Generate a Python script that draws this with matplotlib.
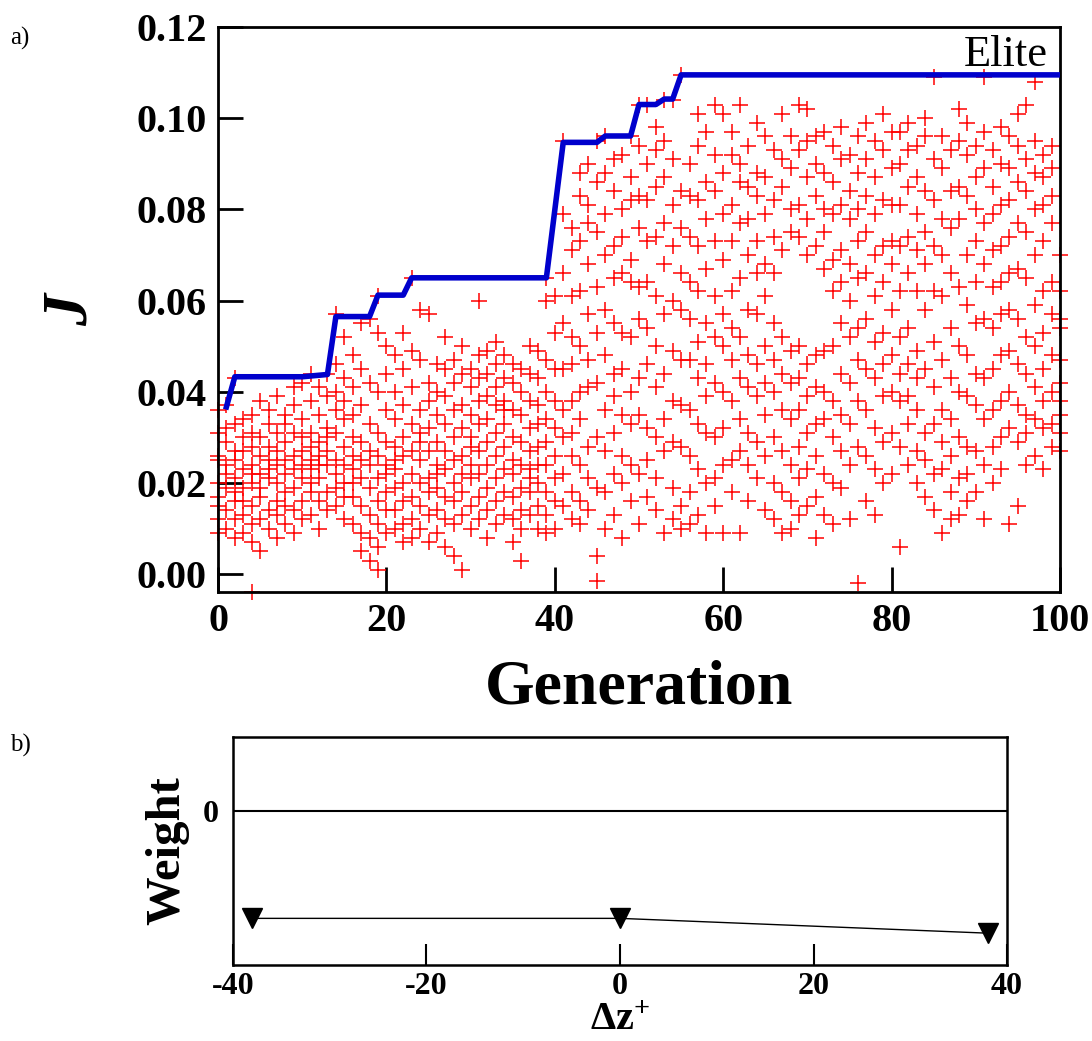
import matplotlib
matplotlib.use("Agg")
import matplotlib.pyplot as plt
import numpy as np

plt.rcParams['font.family'] = ['Liberation Serif', 'DejaVu Serif']
plt.rcParams['mathtext.fontset'] = 'custom'
plt.rcParams['mathtext.rm'] = 'Liberation Serif:bold'
plt.rcParams['mathtext.bf'] = 'Liberation Serif:bold'
plt.rcParams['axes.unicode_minus'] = False

# ---------------- data: panel a ----------------
elite_gen = [1, 2, 10, 13, 14, 18, 19, 22, 23, 39, 41, 45, 46, 49, 50, 52, 53, 54, 55, 100]
elite_J = [0.0367, 0.0433, 0.0433, 0.0438, 0.0565, 0.0565, 0.0612, 0.0612, 0.065, 0.065,
           0.0947, 0.0947, 0.0961, 0.0961, 0.103, 0.103, 0.1042, 0.1042, 0.1095, 0.1095]

pop_gen00_20 = [
    [0.036, 0.031, 0.026, 0.020, 0.015, 0.012, 0.009, 0.025, 0.017],
    [0.037, 0.029, 0.024, 0.019, 0.014, 0.010, 0.022, 0.032],
    [0.043, 0.033, 0.027, 0.021, 0.016, 0.012, 0.008, 0.025, 0.018],
    [0.034, 0.030, 0.023, 0.019, 0.013, 0.009, 0.027, 0.016],
    [0.035, 0.028, 0.024, 0.020, 0.011, 0.007, 0.015, 0.031, 0.022, -0.004],
    [0.038, 0.026, 0.022, 0.017, 0.012, 0.005, 0.030, 0.019],
    [0.036, 0.033, 0.025, 0.021, 0.014, 0.010, 0.028, 0.023],
    [0.039, 0.031, 0.024, 0.020, 0.016, 0.013, 0.008, 0.027],
    [0.033, 0.029, 0.025, 0.022, 0.018, 0.011, 0.015, 0.035],
    [0.041, 0.037, 0.026, 0.023, 0.019, 0.014, 0.009, 0.031],
    [0.042, 0.034, 0.030, 0.024, 0.021, 0.016, 0.012, 0.027],
    [0.044, 0.038, 0.028, 0.025, 0.023, 0.018, 0.013, 0.031, 0.020],
    [0.041, 0.035, 0.029, 0.024, 0.021, 0.016, 0.010, 0.026],
    [0.044, 0.039, 0.032, 0.027, 0.024, 0.018, 0.014, 0.030],
    [0.057, 0.046, 0.040, 0.036, 0.031, 0.025, 0.022, 0.019, 0.015],
    [0.052, 0.043, 0.038, 0.034, 0.028, 0.024, 0.020, 0.012, 0.017],
    [0.048, 0.041, 0.035, 0.030, 0.026, 0.023, 0.017, 0.011, 0.020],
    [0.055, 0.045, 0.037, 0.029, 0.025, 0.021, 0.015, 0.009, 0.005],
    [0.056, 0.042, 0.033, 0.027, 0.024, 0.019, 0.013, 0.008, 0.003],
    [0.061, 0.053, 0.040, 0.031, 0.026, 0.021, 0.016, 0.011, 0.001, 0.006],
    [0.050, 0.044, 0.036, 0.029, 0.024, 0.018, 0.014, 0.009, 0.022],
]
pop_gen21_40 = [
    [0.048, 0.040, 0.034, 0.028, 0.023, 0.019, 0.014, 0.010, 0.025],
    [0.053, 0.045, 0.037, 0.030, 0.026, 0.020, 0.016, 0.011, 0.007],
    [0.065, 0.049, 0.041, 0.033, 0.027, 0.022, 0.017, 0.012, 0.008],
    [0.058, 0.047, 0.036, 0.031, 0.025, 0.020, 0.015, 0.010, 0.029],
    [0.057, 0.042, 0.038, 0.032, 0.027, 0.021, 0.018, 0.013, 0.007],
    [0.046, 0.040, 0.035, 0.029, 0.024, 0.019, 0.014, 0.009, 0.022],
    [0.052, 0.045, 0.039, 0.033, 0.027, 0.023, 0.017, 0.012, 0.006],
    [0.047, 0.042, 0.036, 0.030, 0.025, 0.020, 0.016, 0.011, 0.004],
    [0.050, 0.044, 0.037, 0.032, 0.026, 0.022, 0.018, 0.013, 0.001],
    [0.045, 0.041, 0.035, 0.030, 0.024, 0.021, 0.015, 0.010, 0.028],
    [0.060, 0.048, 0.043, 0.038, 0.033, 0.027, 0.022, 0.017, 0.012],
    [0.049, 0.044, 0.039, 0.034, 0.029, 0.024, 0.019, 0.014, 0.008],
    [0.051, 0.046, 0.041, 0.037, 0.031, 0.026, 0.021, 0.016, 0.011],
    [0.048, 0.043, 0.038, 0.033, 0.028, 0.023, 0.018, 0.013, 0.036],
    [0.046, 0.042, 0.036, 0.030, 0.025, 0.022, 0.017, 0.012, 0.007],
    [0.045, 0.040, 0.035, 0.029, 0.024, 0.019, 0.014, 0.010, 0.003],
    [0.050, 0.044, 0.038, 0.032, 0.027, 0.023, 0.018, 0.013, 0.021],
    [0.049, 0.043, 0.037, 0.033, 0.028, 0.024, 0.020, 0.015, 0.010],
    [0.065, 0.060, 0.047, 0.040, 0.034, 0.029, 0.024, 0.018, 0.013, 0.009],
    [0.061, 0.053, 0.045, 0.038, 0.032, 0.026, 0.021, 0.016, 0.010],
]
pop_gen41_60 = [
    [0.095, 0.079, 0.066, 0.055, 0.045, 0.036, 0.030, 0.022, 0.015],
    [0.076, 0.071, 0.061, 0.052, 0.046, 0.038, 0.031, 0.026, 0.018, 0.012],
    [0.088, 0.083, 0.073, 0.062, 0.050, 0.040, 0.034, 0.024, 0.016, 0.011],
    [0.090, 0.081, 0.077, 0.068, 0.057, 0.047, 0.041, 0.028, 0.021, 0.014],
    [0.095, 0.086, 0.075, 0.063, 0.053, 0.042, 0.030, 0.019, 0.004, -0.0015],
    [0.096, 0.088, 0.079, 0.070, 0.058, 0.048, 0.036, 0.027, 0.018, 0.010],
    [0.091, 0.084, 0.072, 0.065, 0.055, 0.044, 0.039, 0.031, 0.022, 0.013],
    [0.092, 0.080, 0.074, 0.066, 0.053, 0.045, 0.035, 0.026, 0.020, 0.008],
    [0.096, 0.087, 0.082, 0.069, 0.064, 0.052, 0.040, 0.033, 0.024, 0.016],
    [0.103, 0.094, 0.083, 0.076, 0.063, 0.056, 0.043, 0.035, 0.022, 0.011],
    [0.103, 0.090, 0.082, 0.073, 0.064, 0.054, 0.046, 0.032, 0.025, 0.017],
    [0.098, 0.093, 0.085, 0.074, 0.061, 0.050, 0.041, 0.030, 0.021, 0.014],
    [0.104, 0.095, 0.087, 0.077, 0.068, 0.057, 0.044, 0.034, 0.027, 0.009],
    [0.104, 0.091, 0.081, 0.072, 0.060, 0.049, 0.038, 0.029, 0.019, 0.012],
    [0.1095, 0.084, 0.076, 0.066, 0.058, 0.047, 0.037, 0.028, 0.015, 0.010],
    [0.090, 0.083, 0.074, 0.064, 0.056, 0.047, 0.036, 0.026, 0.018, 0.011],
    [0.101, 0.094, 0.082, 0.072, 0.062, 0.051, 0.043, 0.033, 0.023, 0.013],
    [0.097, 0.086, 0.078, 0.067, 0.055, 0.046, 0.039, 0.031, 0.020, 0.009],
    [0.103, 0.092, 0.084, 0.073, 0.061, 0.052, 0.042, 0.030, 0.021, 0.015],
    [0.101, 0.088, 0.079, 0.069, 0.057, 0.050, 0.040, 0.032, 0.024, 0.009],
]
pop_gen61_80 = [
    [0.097, 0.092, 0.081, 0.073, 0.062, 0.054, 0.047, 0.038, 0.025, 0.018],
    [0.103, 0.090, 0.086, 0.077, 0.065, 0.052, 0.043, 0.034, 0.027, 0.009],
    [0.094, 0.085, 0.078, 0.070, 0.058, 0.048, 0.041, 0.031, 0.024, 0.016],
    [0.099, 0.088, 0.083, 0.073, 0.066, 0.057, 0.046, 0.039, 0.029, 0.021],
    [0.096, 0.087, 0.079, 0.068, 0.061, 0.050, 0.042, 0.035, 0.026, 0.014],
    [0.093, 0.082, 0.074, 0.066, 0.055, 0.047, 0.040, 0.030, 0.020, 0.012],
    [0.101, 0.091, 0.085, 0.071, 0.052, 0.044, 0.036, 0.027, 0.018, 0.009],
    [0.096, 0.089, 0.080, 0.075, 0.049, 0.042, 0.034, 0.024, 0.016, 0.010],
    [0.103, 0.093, 0.081, 0.074, 0.050, 0.043, 0.036, 0.028, 0.021, 0.013],
    [0.102, 0.095, 0.087, 0.078, 0.070, 0.046, 0.039, 0.031, 0.023, 0.015],
    [0.096, 0.090, 0.083, 0.072, 0.048, 0.041, 0.033, 0.026, 0.017, 0.008],
    [0.097, 0.088, 0.080, 0.075, 0.067, 0.049, 0.040, 0.034, 0.022, 0.013],
    [0.094, 0.086, 0.079, 0.069, 0.062, 0.050, 0.038, 0.030, 0.020, 0.011],
    [0.098, 0.091, 0.081, 0.071, 0.064, 0.055, 0.044, 0.035, 0.027, 0.019],
    [0.092, 0.084, 0.078, 0.068, 0.060, 0.052, 0.042, 0.033, 0.024, 0.012],
    [0.096, 0.088, 0.080, 0.073, 0.065, 0.054, 0.047, 0.038, 0.028, -0.002],
    [0.099, 0.091, 0.083, 0.075, 0.066, 0.056, 0.045, 0.036, 0.026, 0.016],
    [0.095, 0.087, 0.079, 0.070, 0.061, 0.051, 0.043, 0.032, 0.023, 0.013],
    [0.101, 0.093, 0.082, 0.072, 0.064, 0.053, 0.046, 0.039, 0.029, 0.020],
    [0.097, 0.089, 0.081, 0.073, 0.068, 0.058, 0.048, 0.040, 0.031, 0.022],
]
pop_gen81_100 = [
    [0.097, 0.090, 0.081, 0.072, 0.062, 0.052, 0.044, 0.038, 0.028, 0.006],
    [0.099, 0.093, 0.085, 0.074, 0.066, 0.054, 0.046, 0.039, 0.033, 0.024],
    [0.094, 0.087, 0.079, 0.071, 0.062, 0.049, 0.043, 0.036, 0.027, 0.020],
    [0.100, 0.096, 0.084, 0.075, 0.068, 0.058, 0.045, 0.031, 0.025, 0.017],
    [0.109, 0.091, 0.082, 0.072, 0.062, 0.051, 0.041, 0.033, 0.022, 0.014],
    [0.096, 0.089, 0.078, 0.070, 0.061, 0.047, 0.036, 0.029, 0.023, 0.009],
    [0.093, 0.084, 0.076, 0.066, 0.054, 0.043, 0.034, 0.026, 0.018, 0.012],
    [0.102, 0.095, 0.085, 0.078, 0.063, 0.050, 0.040, 0.030, 0.021, 0.013],
    [0.099, 0.092, 0.083, 0.070, 0.059, 0.048, 0.039, 0.028, 0.022, 0.016],
    [0.094, 0.087, 0.080, 0.073, 0.064, 0.055, 0.044, 0.037, 0.027, 0.018],
    [0.109, 0.097, 0.089, 0.077, 0.068, 0.056, 0.043, 0.034, 0.024, 0.012],
    [0.093, 0.085, 0.079, 0.071, 0.063, 0.054, 0.045, 0.036, 0.028, 0.020],
    [0.098, 0.090, 0.081, 0.072, 0.064, 0.057, 0.048, 0.038, 0.030, 0.023],
    [0.096, 0.089, 0.082, 0.074, 0.066, 0.058, 0.049, 0.040, 0.032, 0.011],
    [0.101, 0.094, 0.086, 0.077, 0.067, 0.056, 0.046, 0.037, 0.029, 0.015],
    [0.103, 0.091, 0.084, 0.075, 0.065, 0.052, 0.044, 0.035, 0.031, 0.024],
    [0.108, 0.095, 0.088, 0.080, 0.070, 0.059, 0.050, 0.041, 0.034, 0.026],
    [0.092, 0.087, 0.081, 0.073, 0.062, 0.053, 0.045, 0.038, 0.032, 0.023],
    [0.094, 0.089, 0.083, 0.077, 0.064, 0.057, 0.048, 0.040, 0.033, 0.028],
    [0.070, 0.062, 0.056, 0.054, 0.047, 0.042, 0.038, 0.035, 0.031, 0.027],
]

a_xticks = [0, 20, 40, 60, 80, 100]
a_yticks = [0.00, 0.02, 0.04, 0.06, 0.08, 0.10, 0.12]

# ---------------- data: panel b ----------------
dz = [-38, 0, 38]
weight = [-1.45, -1.45, -1.65]
b_xticks = [-40, -20, 0, 20, 40]

# ---------------- figure ----------------
fig = plt.figure(figsize=(10.92, 10.41), dpi=100)

ax = fig.add_axes([218/1092, 1-592/1041, (1060-218)/1092, (592-27)/1041])
all_pop = pop_gen00_20 + pop_gen21_40 + pop_gen41_60 + pop_gen61_80 + pop_gen81_100
gx, gy = [], []
for g, vals in enumerate(all_pop):
    gx.extend([g] * len(vals))
    gy.extend(vals)
ax.plot(gx, gy, linestyle='none', marker='+', color='red', markersize=11,
        markeredgewidth=1.1, clip_on=False, zorder=2)
ax.plot(elite_gen, elite_J, color='#0000cc', linewidth=4.0, zorder=3,
        solid_joinstyle='round')
ax.text(0.985, 0.985, 'Elite', transform=ax.transAxes, ha='right', va='top',
        fontsize=32)

ax.set_xlim(0, 100)
ax.set_ylim(-0.0039, 0.12)
ax.set_xticks(a_xticks)
ax.set_yticks(a_yticks)
ax.set_yticklabels([f'{v:.2f}' for v in a_yticks])
ax.tick_params(direction='in', length=18, width=2, labelsize=29, pad=8)
for lab in ax.get_xticklabels() + ax.get_yticklabels():
    lab.set_fontweight('bold')
for s in ax.spines.values():
    s.set_linewidth(2)
ax.set_xlabel('Generation', fontsize=46, fontweight='bold', labelpad=14)
ax.set_ylabel('J', fontsize=46, fontweight='bold', style='italic', labelpad=26)

fig.text(10/1092, 1-38/1041, 'a)', fontsize=18, ha='left', va='center')
fig.text(10/1092, 1-745/1041, 'b)', fontsize=18, ha='left', va='center')

# panel b
bx = fig.add_axes([233/1092, 1-965/1041, (1007-233)/1092, (965-737)/1041])
bx.axhline(0, color='black', linewidth=1.5)
bx.plot(dz, weight, color='black', linewidth=1.0, marker='v', markersize=14,
        clip_on=False)
bx.set_xlim(-40, 40)
bx.set_ylim(-2.08, 1.0)
bx.set_xticks(b_xticks)
bx.set_xticklabels([str(v) for v in b_xticks])
bx.set_yticks([0])
bx.set_yticklabels(['0'])
bx.tick_params(axis='x', direction='in', length=15, width=1.5, labelsize=23, pad=5)
bx.tick_params(axis='y', length=0, labelsize=23, pad=10)
for lab in bx.get_xticklabels() + bx.get_yticklabels():
    lab.set_fontweight('bold')
for s in bx.spines.values():
    s.set_linewidth(1.8)
bx.set_xlabel(r'$\mathbf{\Delta z^{+}}$', fontsize=29, labelpad=1)
bx.set_ylabel('Weight', fontsize=35, fontweight='bold', labelpad=10)

fig.savefig('out.png', dpi=100)
